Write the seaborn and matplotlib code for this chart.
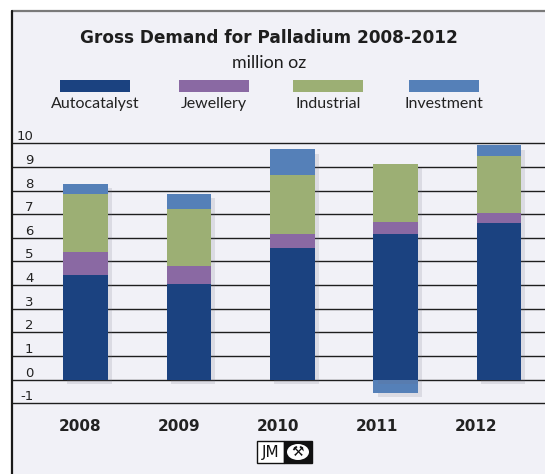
import matplotlib
matplotlib.use("Agg")
import matplotlib.pyplot as plt
import matplotlib.patheffects as pe
from matplotlib.patches import Rectangle, Ellipse
from matplotlib.transforms import ScaledTranslation
import numpy as np
import pandas as pd
import seaborn as sns

# Gross palladium demand by application, million oz
years = ["2008", "2009", "2010", "2011", "2012"]
autocatalyst = [4.43, 4.05, 5.57, 6.15, 6.61]
jewellery = [0.99, 0.77, 0.60, 0.51, 0.45]
industrial = [2.42, 2.40, 2.47, 2.47, 2.39]
investment = [0.43, 0.63, 1.10, -0.57, 0.46]

series_names = ["Autocatalyst", "Jewellery", "Industrial", "Investment"]
series_values = [autocatalyst, jewellery, industrial, investment]
colors = ["#1b4280", "#8a69a3", "#9caf74", "#5580b8"]
y_ticks = list(range(-1, 11))

BG = "#f1f1f7"
W, H = 545, 474

sns.set_theme(style="white")
plt.rcParams["font.family"] = ["Lato", "DejaVu Sans"]

fig = plt.figure(figsize=(W / 100, H / 100), dpi=100, facecolor="white")

# panel background with top and left rules
panel_top = 1 - 10.5 / H
panel_left = 12 / W
fig.add_artist(Rectangle((panel_left, 0), 1 - panel_left, panel_top,
                         transform=fig.transFigure, facecolor=BG,
                         edgecolor="none", zorder=0))
fig.add_artist(plt.Line2D([panel_left, 1], [panel_top, panel_top],
                          transform=fig.transFigure, color="#7a7a7a", lw=1.6))
fig.add_artist(plt.Line2D([panel_left, panel_left], [0, panel_top],
                          transform=fig.transFigure, color="#1a1a1a", lw=1.6))

ax = fig.add_axes([panel_left, 1 - 403.3 / H, 1 - panel_left, (403.3 - 143.3) / H])
ax.set_facecolor("none")

df = pd.DataFrame({"year": years})
for name, vals in zip(series_names, series_values):
    df[name] = vals

# stack bases: positive parts on top of each other, negatives from zero
pos_base = np.zeros(len(years))
neg_base = np.zeros(len(years))
z_order = {"Autocatalyst": 6, "Jewellery": 5, "Industrial": 4, "Investment": 3}
shadow = [pe.SimplePatchShadow(offset=(3, -3), shadow_rgbFace="#6b6b80", alpha=0.16),
          pe.Normal()]
for name, color in zip(series_names, colors):
    vals = df[name].to_numpy()
    base = np.where(vals >= 0, pos_base, neg_base)
    before = len(ax.patches)
    sns.barplot(data=df, x="year", y=name, color=color, width=0.43,
                errorbar=None, saturation=1, bottom=base, ax=ax,
                edgecolor="none", linewidth=0, zorder=z_order[name])
    for p in ax.patches[before:]:
        p.set_path_effects(shadow)
    pos_base = pos_base + np.where(vals >= 0, vals, 0)
    neg_base = neg_base + np.where(vals < 0, vals, 0)

ax.set_ylim(-1, 10)
ax.set_xlim(-0.711, 4.444)
for s in ax.spines.values():
    s.set_visible(False)

# horizontal rules at every unit
for yv in y_ticks:
    ax.axhline(yv, color="#1e1e1e", lw=1.0, zorder=1, clip_on=False)

ax.set_yticks(y_ticks)
ax.set_yticklabels([str(v) for v in y_ticks], fontsize=9.5, color="#222222",
                   family=["DejaVu Sans"])
ax.tick_params(axis="y", length=0, pad=-15.5)
for lab in ax.get_yticklabels():
    lab.set_horizontalalignment("right")
    lab.set_transform(lab.get_transform() + ScaledTranslation(0, 8 / 100, fig.dpi_scale_trans))

# year labels spaced slightly tighter than the bars
ax.set_xticks([-0.053 + 0.958 * i for i in range(len(years))])
ax.set_xticklabels(years, fontsize=11, fontweight="bold", color="#222222",
                   family=["DejaVu Sans"])
ax.tick_params(axis="x", length=0, pad=11)
ax.set_xlabel("")
ax.set_ylabel("")

# titles
fig.text(269 / W, 1 - 38 / H, "Gross Demand for Palladium 2008-2012",
         ha="center", va="center", fontsize=12.2, fontweight="bold",
         color="#1e1e1e", family=["DejaVu Sans"])
fig.text(269 / W, 1 - 63 / H, "million oz", ha="center", va="center",
         fontsize=12.8, color="#1e1e1e")

# legend: swatch above each label
legend_centers = [95, 214, 328, 444]
for cx, name, color in zip(legend_centers, series_names, colors):
    fig.add_artist(Rectangle(((cx - 35) / W, 1 - 92 / H), 70 / W, 12 / H,
                             transform=fig.transFigure, facecolor=color,
                             edgecolor="none"))
    fig.text(cx / W, 1 - 104 / H, name, ha="center", va="center",
             fontsize=11.5, color="#222222")

# JM mark
fig.add_artist(Rectangle((257 / W, 1 - 463 / H), 27 / W, 22 / H,
                         transform=fig.transFigure, facecolor="white",
                         edgecolor="#111111", lw=1))
fig.add_artist(Rectangle((284 / W, 1 - 463 / H), 28 / W, 22 / H,
                         transform=fig.transFigure, facecolor="#111111",
                         edgecolor="#111111", lw=1))
fig.text(270.5 / W, 1 - 452 / H, "JM", ha="center", va="center",
         fontsize=11, color="#111111", family=["DejaVu Sans"])
fig.add_artist(Ellipse((298 / W, 1 - 452 / H), 22 / W, 16 / H,
                       transform=fig.transFigure, facecolor="white",
                       edgecolor="none"))
fig.text(298 / W, 1 - 452 / H, "\u2692", ha="center", va="center",
         fontsize=10, color="#111111", family=["DejaVu Sans"])

fig.savefig("out.png", dpi=100, facecolor="white")
